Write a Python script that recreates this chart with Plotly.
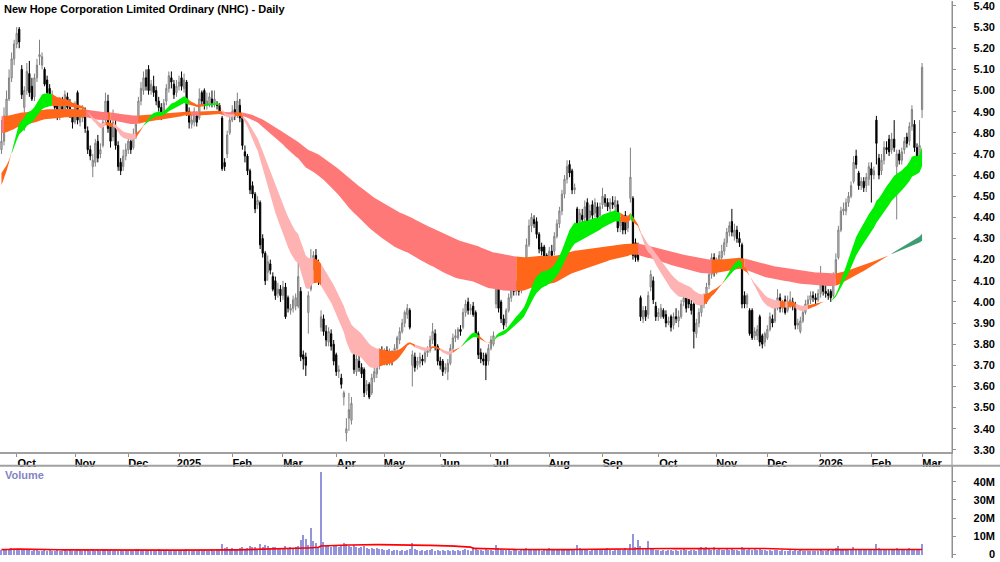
import numpy as np
import plotly.graph_objects as go

# ---------------- data ----------------
OPEN = [
 4.72,4.76,4.88,4.96,5.06,5.15,
 5.22,5.29,5.10,4.92,5.00,5.08,5.02,4.97,5.06,5.16,5.12,5.10,5.05,5.01,4.96,4.95,4.93,4.88,4.94,4.91,4.97,4.92,4.89,
 4.85,4.99,4.85,4.87,4.90,4.81,4.72,4.64,4.66,4.76,4.70,4.74,4.86,4.95,4.83,4.78,4.83,4.74,4.66,4.64,4.69,
 4.72,4.76,4.73,4.79,4.86,4.95,5.00,5.06,5.10,5.00,5.02,5.00,4.95,4.92,4.89,4.95,5.01,5.06,5.03,4.99,
 5.02,5.06,5.01,5.04,4.90,4.84,4.85,4.88,4.87,4.99,5.00,4.93,4.93,4.96,4.94,4.93,4.93,4.87,4.66,4.70,4.80,
 4.86,4.91,4.89,4.93,4.87,4.71,4.69,4.62,4.55,4.51,4.46,4.47,4.30,4.23,4.14,4.18,4.12,4.10,4.04,4.06,
 4.03,4.07,4.02,3.96,3.97,3.98,3.98,4.05,3.75,3.74,3.95,4.06,4.18,4.22,4.17,3.88,3.92,3.86,3.81,3.85,3.80,
 3.75,3.67,3.64,3.55,3.38,3.45,3.44,3.75,3.67,3.72,3.69,3.68,3.58,3.61,3.57,3.64,3.66,3.70,3.76,
 3.72,3.77,3.72,3.75,3.74,3.78,3.82,3.86,3.90,3.94,3.96,3.70,3.74,3.70,3.71,3.73,3.72,3.76,3.77,3.82,3.85,3.79,
 3.72,3.72,3.68,3.67,3.71,3.78,3.83,3.83,3.87,3.88,3.95,4.00,3.96,3.98,3.95,3.85,3.76,3.73,3.75,3.72,
 3.78,3.80,3.99,4.06,4.00,3.92,3.90,3.96,4.02,4.06,4.05,4.09,4.06,4.09,4.17,4.27,4.36,4.39,4.38,4.32,4.26,4.26,4.22,
 4.17,4.24,4.24,4.31,4.37,4.43,4.51,4.58,4.65,4.62,4.53,4.44,4.38,4.41,4.40,4.47,4.40,4.46,4.42,4.45,4.41,
 4.46,4.49,4.47,4.44,4.47,4.45,4.46,4.36,4.38,4.41,4.35,4.49,4.49,4.28,4.26,4.02,3.92,3.96,3.94,4.07,4.10,3.98,
 3.93,3.93,3.96,3.94,3.90,3.93,3.89,3.93,3.91,3.93,4.00,4.03,4.02,3.99,3.99,3.85,3.90,3.95,3.99,4.00,4.08,4.13,4.21,
 4.15,4.17,4.21,4.24,4.28,4.33,4.38,4.31,4.34,4.30,4.27,4.03,3.99,3.96,3.96,3.84,3.84,3.93,3.84,3.81,
 3.83,3.87,3.92,3.91,3.97,4.02,3.97,4.01,3.96,4.00,4.00,3.99,3.89,3.86,3.91,3.95,3.99,4.01,4.03,4.02,4.01,
 4.04,4.08,4.05,4.04,4.05,4.03,4.12,4.21,4.34,4.43,4.43,4.47,4.50,4.57,4.69,4.61,4.55,4.57,4.55,4.58,
 4.63,4.60,4.86,4.68,4.62,4.67,4.73,4.77,4.72,4.77,4.64,4.70,4.67,4.72,4.78,4.76,4.83,4.84,4.73,4.69,
 4.91]
HIGH = [
 4.86,4.92,5.00,5.10,5.18,5.24,
 5.30,5.30,5.12,5.02,5.13,5.14,5.06,5.08,5.15,5.24,5.18,5.11,5.07,5.03,5.00,4.97,4.95,4.97,4.97,5.00,4.99,4.96,4.91,
 4.95,5.00,4.91,4.93,4.92,4.83,4.74,4.70,4.77,4.79,4.75,4.87,4.99,4.98,4.86,4.91,4.86,4.76,4.68,4.72,4.75,
 4.79,4.78,4.82,4.85,4.97,5.04,5.09,5.10,5.12,5.05,5.07,5.02,4.97,4.94,4.96,5.03,5.09,5.09,5.05,5.05,
 5.07,5.09,5.08,5.05,4.92,4.89,4.92,4.90,5.01,5.00,5.01,4.99,4.99,5.00,5.00,4.95,4.94,4.88,4.68,4.81,4.88,
 4.93,4.95,4.99,4.96,4.88,4.74,4.70,4.63,4.57,4.52,4.50,4.48,4.32,4.24,4.22,4.20,4.14,4.12,4.09,4.08,
 4.10,4.09,4.03,3.99,4.03,4.04,4.24,4.07,3.77,3.76,4.05,4.25,4.24,4.25,4.20,3.96,3.94,3.89,3.88,3.87,3.82,
 3.76,3.70,3.66,3.58,3.45,3.57,3.55,3.77,3.75,3.76,3.71,3.69,3.63,3.62,3.66,3.69,3.72,3.78,3.79,
 3.78,3.79,3.78,3.77,3.80,3.84,3.88,3.92,3.96,3.99,3.97,3.77,3.76,3.74,3.76,3.75,3.78,3.79,3.84,3.90,3.87,3.80,
 3.74,3.73,3.71,3.73,3.80,3.85,3.87,3.88,3.89,3.97,4.01,4.02,3.99,4.00,3.96,3.86,3.78,3.76,3.76,3.80,
 3.84,3.86,4.11,4.07,4.01,3.94,3.97,4.04,4.08,4.09,4.10,4.11,4.12,4.17,4.30,4.39,4.42,4.41,4.40,4.33,4.28,4.27,4.23,
 4.26,4.27,4.33,4.39,4.45,4.53,4.60,4.67,4.67,4.63,4.56,4.45,4.44,4.44,4.48,4.49,4.46,4.48,4.49,4.47,4.47,
 4.54,4.51,4.49,4.49,4.50,4.50,4.48,4.40,4.40,4.43,4.41,4.73,4.50,4.30,4.28,4.03,3.98,3.98,4.05,4.15,4.12,4.00,
 3.97,3.99,3.97,3.96,3.93,3.94,3.95,3.97,3.96,4.01,4.06,4.05,4.04,4.01,4.00,3.92,3.97,4.01,4.04,4.09,4.16,4.23,4.23,
 4.21,4.24,4.27,4.30,4.35,4.38,4.44,4.37,4.36,4.33,4.28,4.05,4.04,3.97,3.97,3.88,3.89,3.94,3.85,3.86,
 3.89,3.95,3.94,3.99,4.06,4.04,4.01,4.03,4.03,4.05,4.02,4.00,3.92,3.93,3.97,4.01,4.03,4.05,4.05,4.04,4.06,
 4.17,4.10,4.08,4.06,4.06,4.14,4.23,4.36,4.45,4.47,4.49,4.52,4.57,4.69,4.72,4.62,4.59,4.59,4.61,4.66,
 4.66,4.64,4.88,4.70,4.70,4.76,4.76,4.79,4.80,4.86,4.72,4.72,4.73,4.78,4.80,4.85,4.93,4.86,4.75,4.86,
 5.13]
LOW = [
 4.70,4.74,4.86,4.95,5.04,5.12,
 5.20,5.20,4.96,4.81,4.98,4.97,4.95,4.95,5.04,5.12,5.10,5.02,4.97,4.95,4.93,4.90,4.86,4.86,4.89,4.89,4.90,4.87,4.82,
 4.84,4.84,4.83,4.85,4.80,4.70,4.67,4.59,4.64,4.66,4.68,4.73,4.85,4.80,4.73,4.76,4.72,4.62,4.60,4.62,4.67,
 4.70,4.70,4.72,4.77,4.85,4.93,4.98,5.00,4.98,4.98,4.97,4.93,4.90,4.86,4.87,4.93,4.99,5.01,4.96,4.97,
 5.00,5.00,4.99,4.88,4.82,4.82,4.83,4.83,4.86,4.93,4.91,4.91,4.92,4.92,4.92,4.91,4.89,4.62,4.62,4.68,4.79,
 4.85,4.86,4.87,4.85,4.72,4.66,4.60,4.51,4.49,4.42,4.44,4.25,4.21,4.08,4.10,4.13,4.05,4.01,4.02,4.00,
 4.01,3.92,3.95,3.94,3.95,3.96,3.97,3.72,3.68,3.65,3.85,4.05,4.15,4.10,4.08,3.86,3.84,3.79,3.79,3.77,3.70,
 3.65,3.64,3.59,3.51,3.34,3.39,3.42,3.66,3.65,3.67,3.64,3.55,3.56,3.54,3.56,3.62,3.64,3.68,3.70,
 3.70,3.70,3.70,3.70,3.73,3.77,3.80,3.85,3.88,3.92,3.87,3.60,3.67,3.68,3.69,3.70,3.71,3.74,3.76,3.80,3.77,3.70,
 3.68,3.65,3.66,3.63,3.70,3.77,3.81,3.82,3.84,3.87,3.93,3.94,3.94,3.93,3.84,3.73,3.71,3.70,3.63,3.70,
 3.77,3.79,3.97,3.95,3.90,3.87,3.88,3.95,4.00,4.03,4.03,4.03,4.04,4.07,4.15,4.26,4.33,4.35,4.30,4.23,4.22,4.16,4.13,
 4.15,4.20,4.22,4.30,4.35,4.41,4.49,4.56,4.59,4.51,4.51,4.32,4.36,4.37,4.38,4.36,4.38,4.39,4.40,4.38,4.39,
 4.44,4.45,4.43,4.42,4.44,4.43,4.33,4.33,4.32,4.32,4.33,4.47,4.20,4.19,4.19,3.91,3.90,3.91,3.92,4.05,3.99,3.91,
 3.91,3.92,3.92,3.88,3.89,3.86,3.87,3.90,3.88,3.92,3.98,3.95,3.97,3.94,3.78,3.83,3.88,3.93,3.97,3.99,4.06,4.11,4.12,
 4.13,4.15,4.20,4.22,4.26,4.31,4.31,4.29,4.28,4.26,3.97,3.97,3.97,3.84,3.82,3.82,3.82,3.79,3.78,3.79,
 3.82,3.86,3.88,3.90,3.96,3.95,3.95,3.94,3.95,3.97,3.96,3.87,3.87,3.85,3.90,3.94,3.98,3.99,4.00,3.99,4.00,
 4.02,4.03,4.02,4.01,4.00,4.02,4.11,4.20,4.33,4.41,4.41,4.45,4.49,4.56,4.63,4.53,4.53,4.52,4.52,4.55,
 4.47,4.58,4.65,4.58,4.60,4.65,4.70,4.69,4.70,4.71,4.39,4.65,4.65,4.70,4.73,4.74,4.81,4.71,4.66,4.67,
 4.87]
CLOSE = [
 4.76,4.88,4.96,5.06,5.15,5.22,
 5.27,5.23,4.98,5.00,5.09,4.99,4.96,5.06,5.12,5.17,5.16,5.03,4.99,4.97,4.97,4.92,4.88,4.95,4.90,4.98,4.92,4.89,4.85,
 4.93,4.86,4.88,4.91,4.82,4.72,4.69,4.67,4.75,4.68,4.72,4.85,4.95,4.82,4.76,4.85,4.74,4.64,4.62,4.69,4.72,
 4.76,4.72,4.79,4.84,4.95,5.01,5.06,5.02,5.00,5.03,4.99,4.95,4.92,4.88,4.94,5.01,5.07,5.04,4.98,5.02,
 5.04,5.02,5.05,4.90,4.85,4.86,4.90,4.85,4.96,4.95,4.93,4.95,4.97,4.94,4.96,4.93,4.90,4.63,4.64,4.79,4.86,
 4.90,4.88,4.95,4.87,4.74,4.69,4.62,4.53,4.51,4.44,4.48,4.27,4.23,4.10,4.19,4.15,4.06,4.03,4.06,4.03,
 4.07,3.93,3.97,3.97,4.01,4.02,4.12,3.74,3.73,3.70,4.03,4.20,4.22,4.12,4.10,3.93,3.86,3.82,3.86,3.79,3.72,
 3.67,3.68,3.61,3.57,3.40,3.49,3.52,3.68,3.73,3.69,3.66,3.57,3.61,3.55,3.64,3.67,3.70,3.76,3.72,
 3.76,3.71,3.76,3.72,3.78,3.83,3.86,3.90,3.95,3.97,3.88,3.75,3.69,3.72,3.74,3.72,3.76,3.77,3.82,3.86,3.79,3.72,
 3.70,3.67,3.69,3.71,3.78,3.83,3.84,3.87,3.86,3.95,3.99,3.96,3.97,3.94,3.85,3.75,3.73,3.72,3.70,3.78,
 3.82,3.84,4.10,3.97,3.92,3.89,3.96,4.02,4.06,4.05,4.08,4.05,4.09,4.14,4.27,4.36,4.40,4.37,4.32,4.25,4.24,4.18,4.15,
 4.24,4.22,4.31,4.37,4.43,4.51,4.58,4.64,4.61,4.53,4.54,4.34,4.42,4.39,4.45,4.38,4.43,4.41,4.47,4.40,4.45,
 4.50,4.47,4.45,4.47,4.46,4.48,4.35,4.38,4.34,4.34,4.38,4.59,4.22,4.21,4.20,3.93,3.96,3.93,4.03,4.13,4.01,3.93,
 3.95,3.97,3.93,3.90,3.91,3.88,3.93,3.92,3.93,3.99,4.02,3.97,3.99,3.96,3.86,3.90,3.95,3.99,4.02,4.07,4.13,4.21,4.14,
 4.18,4.22,4.24,4.28,4.33,4.36,4.33,4.34,4.30,4.28,3.99,3.99,4.03,3.85,3.83,3.86,3.87,3.81,3.80,3.85,
 3.87,3.93,3.90,3.97,4.02,3.97,3.99,3.95,4.00,4.01,3.98,3.89,3.90,3.91,3.95,3.99,4.01,4.03,4.02,4.01,4.04,
 4.08,4.05,4.04,4.03,4.02,4.12,4.20,4.34,4.43,4.44,4.47,4.50,4.55,4.66,4.65,4.55,4.57,4.54,4.59,4.64,
 4.60,4.62,4.75,4.60,4.67,4.73,4.72,4.71,4.77,4.73,4.70,4.67,4.71,4.76,4.75,4.83,4.91,4.73,4.68,4.74,
 5.11]
VOLUME_M = [
 2.6,3.1,2.4,2.8,3.5,2.9,
 3.2,2.7,2.5,2.9,2.3,2.6,2.1,2.4,2.8,2.2,2.0,2.5,1.9,2.3,2.1,1.8,2.4,2.2,1.9,2.6,2.0,2.3,1.7,
 2.1,2.9,2.4,2.0,2.6,2.3,1.9,2.7,2.2,2.4,2.0,2.8,3.0,2.3,2.5,2.1,2.6,2.2,2.4,1.9,2.3,
 2.0,2.5,2.2,2.8,3.1,2.6,2.3,2.0,2.4,2.7,2.1,2.3,3.0,2.2,1.8,2.5,2.0,1.9,2.4,2.6,
 1.8,2.2,2.0,2.9,2.4,1.9,2.3,2.1,2.6,2.0,2.4,1.9,2.2,2.5,2.1,2.3,2.7,5.8,3.4,3.9,3.1,
 3.6,2.8,3.2,3.5,4.2,3.3,3.8,4.6,3.9,4.4,3.2,5.9,4.1,5.2,4.8,3.6,4.3,4.0,3.4,3.1,
 3.8,4.5,3.6,3.9,3.3,4.1,4.6,7.9,10.5,8.6,5.2,14.6,7.4,6.1,3.9,45.5,6.8,5.3,4.6,4.2,5.0,
 4.8,4.1,5.3,6.2,5.7,4.6,3.9,5.1,4.4,3.7,4.2,4.9,3.5,3.2,3.8,3.0,3.4,2.9,3.1,
 2.6,2.3,2.8,2.1,2.4,2.7,2.2,2.5,2.0,2.6,2.9,6.1,3.3,2.4,2.2,2.7,2.0,2.3,2.5,2.8,2.1,2.4,
 2.2,2.6,1.9,2.4,2.1,2.3,2.0,2.7,2.2,2.5,2.8,2.3,2.1,4.2,3.1,2.6,2.3,2.0,2.8,2.4,
 2.7,2.2,5.1,3.4,2.8,2.5,2.3,2.6,2.1,2.4,2.9,2.2,2.5,3.2,3.8,3.0,2.6,2.4,2.8,2.3,2.1,2.7,2.5,
 3.6,2.4,2.6,2.9,3.1,2.8,3.3,3.0,2.7,2.9,2.5,5.0,3.4,2.6,2.4,2.8,2.2,2.5,2.3,2.7,2.4,
 2.6,2.3,3.6,2.4,2.2,2.5,3.1,2.7,2.4,3.4,2.6,6.0,11.3,4.2,8.1,4.6,3.8,3.1,7.6,3.3,2.9,2.7,
 2.4,2.2,2.6,2.0,2.3,2.5,2.1,2.4,2.2,2.7,2.9,2.3,2.0,2.6,2.4,2.2,2.8,4.0,3.6,4.1,3.0,2.7,4.0,
 2.5,2.8,2.6,2.3,2.9,2.4,3.1,2.7,2.5,2.2,3.9,2.8,2.4,3.0,2.6,3.5,2.3,3.8,2.6,2.4,
 2.2,2.5,2.0,2.3,2.7,2.1,2.4,1.9,2.2,2.6,1.8,2.3,2.0,2.4,1.9,2.1,1.7,2.0,1.8,2.2,1.9,
 2.3,2.0,2.2,2.5,2.1,3.0,3.4,4.5,3.3,2.8,3.1,2.6,2.9,4.2,3.2,2.7,2.5,2.9,2.4,2.6,
 2.8,2.5,5.6,3.4,3.0,2.7,2.9,2.4,2.6,3.1,3.6,2.5,2.3,2.7,2.4,3.5,2.9,2.6,2.4,2.8,
 6.0]

# trading bars per calendar month, Sep 2024 .. Mar 2026
MONTH_BARS = [6, 23, 21, 20, 21, 20, 21, 19, 22, 20, 23, 21, 22, 23, 20, 21, 20, 20, 1]
MONTH_LABELS = ["Oct", "Nov", "Dec", "2025", "Feb", "Mar", "Apr", "May", "Jun", "Jul",
                "Aug", "Sep", "Oct", "Nov", "Dec", "2026", "Feb", "Mar"]
PRICE_TICKS = [3.30, 3.40, 3.50, 3.60, 3.70, 3.80, 3.90, 4.00, 4.10, 4.20, 4.30,
               4.40, 4.50, 4.60, 4.70, 4.80, 4.90, 5.00, 5.10, 5.20, 5.30, 5.40]
VOL_TICKS = [0, 10, 20, 30, 40]
VOL_TICK_TEXT = ["0", "10M", "20M", "30M", "40M"]

# ribbon seeds: (fast, slow) values at the left edge
SHORT_SEED = (4.53, 4.60)
LONG_SEED = (4.80, 4.88)
SHORT_PERIODS = (20, 32)
LONG_PERIODS = (130, 200)
VOL_MA = 60
SLOPE_LAG = 3

# ---------------- derived ----------------
n = len(CLOSE)
idx = np.arange(n)
close = np.array(CLOSE)


def ema(vals, period, seed):
    a = 2.0 / (period + 1)
    out = np.empty(len(vals))
    prev = seed
    for k, v in enumerate(vals):
        prev = prev + a * (v - prev)
        out[k] = prev
    return out


def band_traces(seed, periods, colors):
    fast = ema(close, periods[0], seed[0])
    slow = ema(close, periods[1], seed[1])
    up = np.maximum(fast, slow)
    lo = np.minimum(fast, slow)
    states = []
    for k in range(n):
        prev = fast[k - SLOPE_LAG] if k >= SLOPE_LAG else seed[0]
        rising = fast[k] >= prev
        if fast[k] >= slow[k] and rising:
            states.append("bull")
        elif fast[k] < slow[k] and not rising:
            states.append("bear")
        else:
            states.append("mix")
    traces = []
    a = 0
    while a < n:
        b = a
        while b + 1 < n and states[b + 1] == states[a]:
            b += 1
        end = min(b + 1, n - 1)
        seg = list(range(a, end + 1))
        xs = seg + seg[::-1]
        ys = list(up[seg]) + list(lo[seg][::-1])
        traces.append(go.Scatter(x=xs, y=ys, mode="lines", line=dict(width=0),
                                 fill="toself", fillcolor=colors[states[a]],
                                 hoverinfo="skip", showlegend=False,
                                 xaxis="x", yaxis="y"))
        a = b + 1
    return traces


ORANGE = "#ff661a"
long_tr = band_traces(LONG_SEED, LONG_PERIODS,
                      {"bull": "#3c9c74", "mix": ORANGE, "bear": "#ff7878"})
short_tr = band_traces(SHORT_SEED, SHORT_PERIODS,
                       {"bull": "#00ee00", "mix": ORANGE, "bear": "#ffb2b2"})

starts = np.cumsum(MONTH_BARS)[:-1]
vol = np.array(VOLUME_M)
vol_ma = np.array([vol[max(0, k - VOL_MA + 1):k + 1].mean() for k in range(n)])

FONT = "Liberation Sans, Arial, sans-serif"

fig = go.Figure()
for t in long_tr + short_tr:
    fig.add_trace(t)

fig.add_trace(go.Candlestick(
    x=idx, open=OPEN, high=HIGH, low=LOW, close=CLOSE,
    increasing=dict(line=dict(color="#808080", width=1), fillcolor="#d4d4d4"),
    decreasing=dict(line=dict(color="#000000", width=1), fillcolor="#000000"),
    whiskerwidth=0, showlegend=False, xaxis="x", yaxis="y"))

fig.add_trace(go.Bar(x=idx, y=vol, marker=dict(color="#9494dc", line=dict(width=0)),
                     width=0.5, showlegend=False, xaxis="x2", yaxis="y2"))
fig.add_trace(go.Scatter(x=idx, y=vol_ma, mode="lines", line=dict(color="#ff0000", width=1.6),
                         showlegend=False, xaxis="x2", yaxis="y2"))

# invisible helpers carrying the right-aligned label axes
fig.add_trace(go.Scatter(x=[0], y=[4.0], mode="markers", marker=dict(opacity=0),
                         showlegend=False, hoverinfo="skip", xaxis="x", yaxis="y3"))
fig.add_trace(go.Scatter(x=[0], y=[0], mode="markers", marker=dict(opacity=0),
                         showlegend=False, hoverinfo="skip", xaxis="x2", yaxis="y4"))

XR = [-0.58, 374.8]
YR = [3.2903, 5.4234]
VR = [-2.0, 48.7]
MAIN_BOTTOM = 1 - 455 / 562
VOL_TOP = 1 - 469 / 562
tickfont = dict(family=FONT, size=11, color="#000000", weight="bold")

fig.update_layout(
    width=1000, height=562, autosize=False,
    margin=dict(l=0, r=0, t=0, b=0, pad=0),
    paper_bgcolor="white", plot_bgcolor="white",
    showlegend=False, bargap=0,
    xaxis=dict(domain=[0, 0.952], range=XR, anchor="y",
               tickmode="array", tickvals=list(starts), ticktext=MONTH_LABELS,
               ticks="outside", ticklen=3, tickcolor="#909090",
               showline=True, linecolor="#a0a0a0", linewidth=2,
               showgrid=False, zeroline=False, tickfont=tickfont,
               ticklabelshift=10, ticklabelstandoff=-3,
               rangeslider=dict(visible=False)),
    yaxis=dict(domain=[MAIN_BOTTOM, 1], range=YR, side="right", anchor="x",
               tickmode="array", tickvals=PRICE_TICKS, ticks="outside", ticklen=3,
               tickcolor="#909090", showticklabels=False,
               showline=True, linecolor="#909090", linewidth=1,
               showgrid=False, zeroline=False),
    yaxis3=dict(overlaying="y", range=YR, anchor="free", position=0.998, side="right",
                tickmode="array", tickvals=PRICE_TICKS, tickformat=".2f",
                ticklabelposition="inside", ticklabeloverflow="allow",
                ticks="", showline=False,
                showgrid=False, zeroline=False, tickfont=tickfont),
    xaxis2=dict(domain=[0, 0.952], range=XR, anchor="y2", showticklabels=False,
                ticks="", showline=False, showgrid=False, zeroline=False),
    yaxis2=dict(domain=[0, VOL_TOP], range=VR, side="right", anchor="x2",
                tickmode="array", tickvals=VOL_TICKS, ticks="outside", ticklen=3,
                tickcolor="#909090", showticklabels=False,
                showline=True, linecolor="#909090", linewidth=1,
                showgrid=False, zeroline=False),
    yaxis4=dict(overlaying="y2", range=VR, anchor="free", position=0.998, side="right",
                tickmode="array", tickvals=VOL_TICKS, ticktext=VOL_TICK_TEXT,
                ticklabelposition="inside", ticklabeloverflow="allow",
                ticks="", showline=False,
                showgrid=False, zeroline=False, tickfont=tickfont),
    shapes=[
        dict(type="line", xref="paper", yref="paper", x0=0.952, x1=0.952, y0=0, y1=1,
             line=dict(color="#909090", width=1)),
        dict(type="line", xref="paper", yref="paper", x0=0, x1=1, y0=VOL_TOP, y1=VOL_TOP,
             line=dict(color="#a0a0a0", width=2)),
    ],
    annotations=[
        dict(text="New Hope Corporation Limited Ordinary (NHC) - Daily",
             xref="paper", yref="paper", x=0.002, y=1, xanchor="left", yanchor="top",
             showarrow=False,
             font=dict(family=FONT, size=11, color="#000000", weight="bold")),
        dict(text="Volume", xref="paper", yref="paper", x=0.003, y=1 - 478 / 562,
             xanchor="left", yanchor="middle", showarrow=False,
             font=dict(family=FONT, size=11, color="#8484c4", weight="bold")),
    ],
)

fig.write_html("out.html")
